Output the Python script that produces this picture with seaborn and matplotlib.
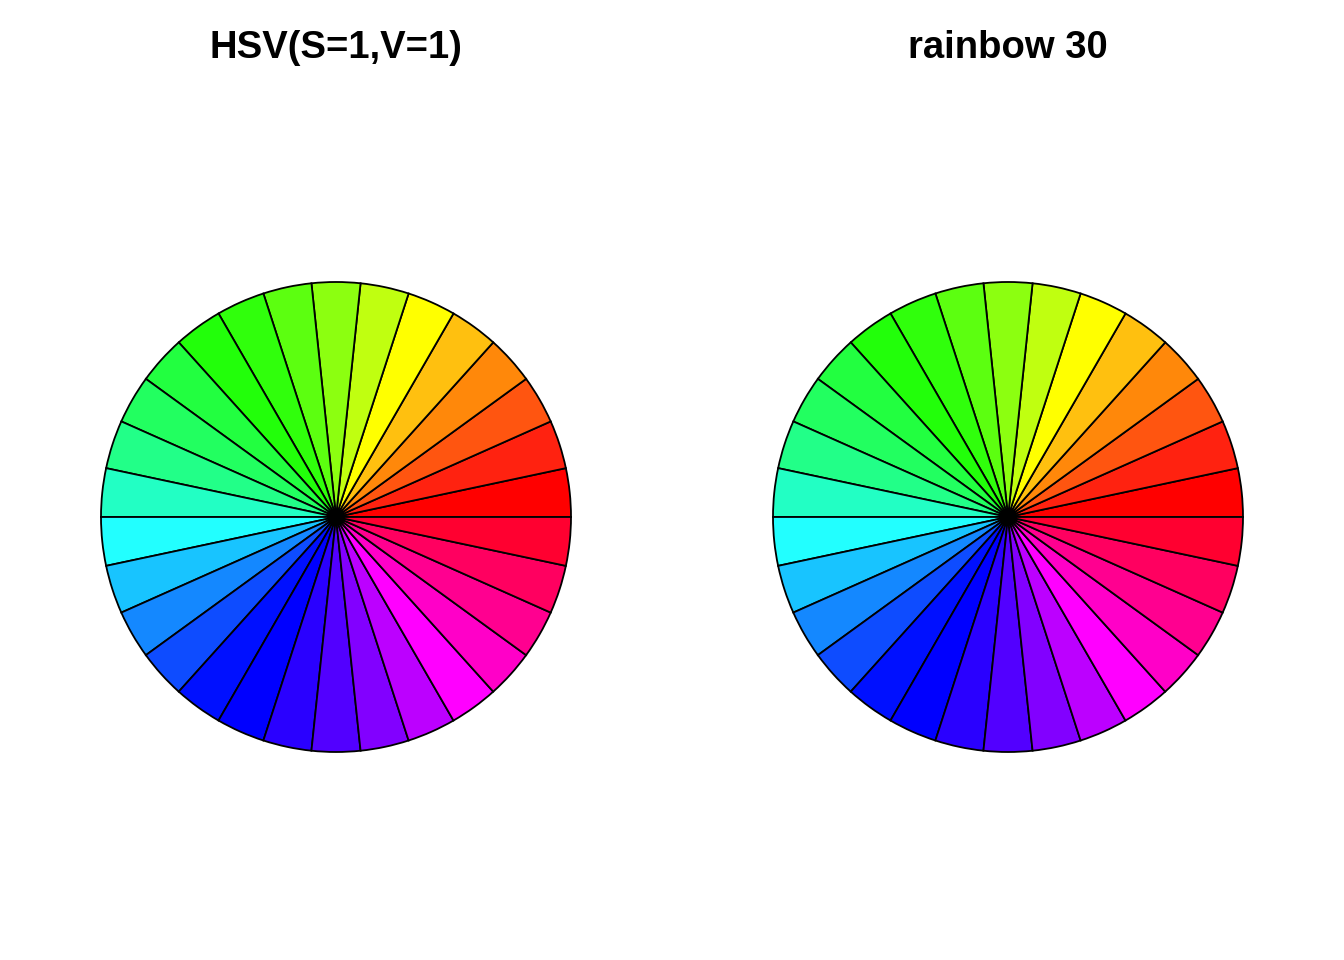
import matplotlib.pyplot as plt
import seaborn as sns

# 30 equal slices per pie
slice_sizes = [1] * 30

# slice colours as they appear in the picture (hue steps of 12 degrees)
hsv_colors = ["#FF0000", "#FF2210", "#FF5510", "#FF880A", "#FFC00F", "#FFFF00",
              "#C0FF10", "#8CFF10", "#5CFF10", "#30FF0C", "#22FF0A", "#22FF40",
              "#22FF60", "#22FF88", "#22FFC4", "#22FFFF", "#18C4FF", "#1488FF",
              "#0E4CFF", "#0010FF", "#0000FF", "#2A00FF", "#5200FF", "#8200FF",
              "#BC00FF", "#FF00FF", "#FF00C8", "#FF0090", "#FF0060", "#FF0030"]
rainbow_colors = ["#FF0000", "#FF2210", "#FF5510", "#FF880A", "#FFC00F", "#FFFF00",
                  "#C0FF10", "#8CFF10", "#5CFF10", "#30FF0C", "#22FF0A", "#22FF40",
                  "#22FF60", "#22FF88", "#22FFC4", "#22FFFF", "#18C4FF", "#1488FF",
                  "#0E4CFF", "#0010FF", "#0000FF", "#2A00FF", "#5200FF", "#8200FF",
                  "#BC00FF", "#FF00FF", "#FF00C8", "#FF0090", "#FF0060", "#FF0030"]
titles = ["HSV(S=1,V=1)", "rainbow 30"]

sns.set_theme(style="white")
plt.rcParams['font.family'] = ['Liberation Sans', 'DejaVu Sans']

fig = plt.figure(figsize=(13.44, 9.6), dpi=100)

for i, (cols, title) in enumerate([(hsv_colors, titles[0]), (rainbow_colors, titles[1])]):
    left = (101 + i * 672) / 1344
    ax = fig.add_axes([left, 208 / 960, 470 / 1344, 470 / 960])
    ax.pie(slice_sizes, colors=cols, startangle=0, counterclock=True,
           wedgeprops=dict(edgecolor='black', linewidth=1.3))
    ax.set_xlim(-1.0, 1.0)
    ax.set_ylim(-1.0, 1.0)
    ax.set_aspect('equal')
    ax.axis('off')
    fig.text((336 + i * 672) / 1344, 1 - 48 / 960, title, ha='center', va='center',
             fontsize=27.5, fontweight='bold', color='black')

fig.savefig("out.png", dpi=100, facecolor='white')
